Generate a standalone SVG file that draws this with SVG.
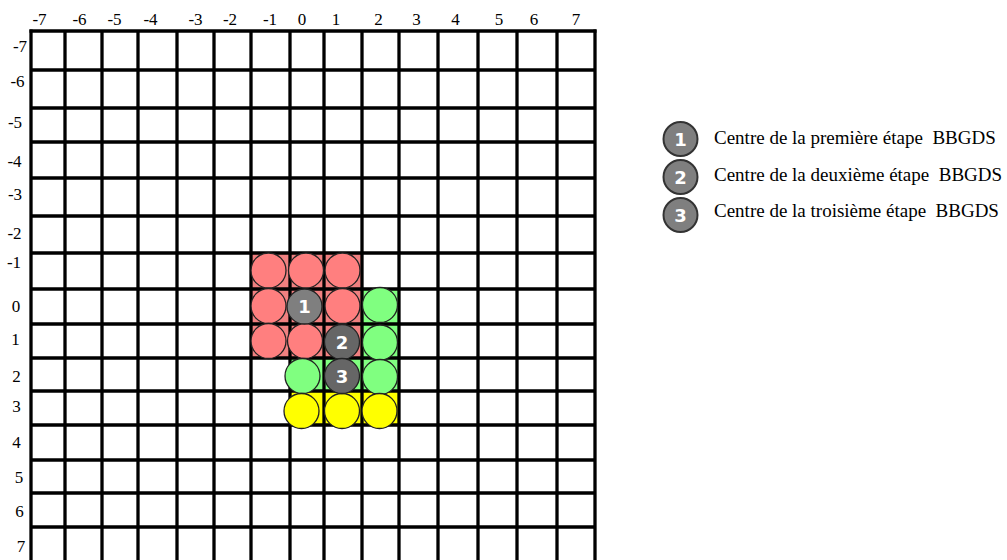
<svg xmlns="http://www.w3.org/2000/svg" width="1007" height="560" viewBox="0 0 1007 560">
<style>
.ax{font-family:"Liberation Serif","Times New Roman",serif;font-size:17px;fill:#000;text-anchor:middle}
.lg{font-family:"Liberation Serif","Times New Roman",serif;font-size:19px;fill:#000;white-space:pre}
.g line{stroke:#000;stroke-width:3.3}
.c{stroke:#222;stroke-width:1.3}
.pk{fill:#ff7f7f}
.gr{fill:#80ff80}
.yl{fill:#ffff00}
.n1{fill:#7f7f7f}
.n2{fill:#666666}
.num{font-family:"DejaVu Sans",Verdana,sans-serif;font-weight:bold;font-size:18px;fill:#fff;text-anchor:middle}
.lc{fill:#7f7f7f;stroke:#333;stroke-width:2}
</style>
<rect width="1007" height="560" fill="#fff"/>
<g id="cells">
<rect x="251" y="253" width="111" height="105" fill="#f08080"/>
<rect x="362" y="289" width="37" height="102" fill="#80ff80"/>
<rect x="290" y="358" width="72" height="33" fill="#80ff80"/>
<rect x="290" y="391" width="109" height="34" fill="#ffff00"/>
</g>
<g id="grid" class="g">
<line x1="31" y1="29.5" x2="31" y2="562"/>
<line x1="65" y1="31" x2="65" y2="562"/>
<line x1="102" y1="31" x2="102" y2="562"/>
<line x1="138" y1="31" x2="138" y2="562"/>
<line x1="177" y1="31" x2="177" y2="562"/>
<line x1="214" y1="31" x2="214" y2="562"/>
<line x1="251" y1="31" x2="251" y2="562"/>
<line x1="290" y1="31" x2="290" y2="562"/>
<line x1="324" y1="31" x2="324" y2="562"/>
<line x1="362" y1="31" x2="362" y2="562"/>
<line x1="399" y1="31" x2="399" y2="562"/>
<line x1="438" y1="31" x2="438" y2="562"/>
<line x1="478" y1="31" x2="478" y2="562"/>
<line x1="517" y1="31" x2="517" y2="562"/>
<line x1="557" y1="31" x2="557" y2="562"/>
<line x1="595" y1="29.5" x2="595" y2="562"/>
<line x1="29.5" y1="31" x2="596.5" y2="31"/>
<line x1="31" y1="70" x2="595" y2="70"/>
<line x1="31" y1="108" x2="595" y2="108"/>
<line x1="31" y1="142" x2="595" y2="142"/>
<line x1="31" y1="178" x2="595" y2="178"/>
<line x1="31" y1="216" x2="595" y2="216"/>
<line x1="31" y1="253" x2="595" y2="253"/>
<line x1="31" y1="289" x2="595" y2="289"/>
<line x1="31" y1="324" x2="595" y2="324"/>
<line x1="31" y1="358" x2="595" y2="358"/>
<line x1="31" y1="391" x2="595" y2="391"/>
<line x1="31" y1="425" x2="595" y2="425"/>
<line x1="31" y1="460" x2="595" y2="460"/>
<line x1="31" y1="493" x2="595" y2="493"/>
<line x1="31" y1="527" x2="595" y2="527"/>
</g>
<g id="axis-top" class="ax">
<text x="39.5" y="25">-7</text>
<text x="79.5" y="25">-6</text>
<text x="114.5" y="25">-5</text>
<text x="150.5" y="25">-4</text>
<text x="195.5" y="25">-3</text>
<text x="230" y="25">-2</text>
<text x="270" y="25">-1</text>
<text x="302" y="25">0</text>
<text x="336" y="25">1</text>
<text x="378.5" y="25">2</text>
<text x="416.5" y="25">3</text>
<text x="455.5" y="25">4</text>
<text x="499" y="25">5</text>
<text x="534" y="25">6</text>
<text x="576" y="25">7</text>
</g>
<g id="axis-left" class="ax">
<text x="20" y="52">-7</text>
<text x="17.5" y="87">-6</text>
<text x="15" y="128">-5</text>
<text x="14.5" y="167">-4</text>
<text x="15" y="200">-3</text>
<text x="14.5" y="239">-2</text>
<text x="14" y="268">-1</text>
<text x="16" y="312">0</text>
<text x="15.5" y="345">1</text>
<text x="16.5" y="382">2</text>
<text x="16.5" y="412">3</text>
<text x="16.5" y="448">4</text>
<text x="19" y="483">5</text>
<text x="19.5" y="517">6</text>
<text x="21" y="552">7</text>
</g>
<g id="circles">
<g id="p-m1-m1"><circle class="c pk" cx="268.5" cy="270.5" r="17.5"/></g>
<g id="p-0-m1"><circle class="c pk" cx="306" cy="270.5" r="17.5"/></g>
<g id="p-1-m1"><circle class="c pk" cx="342.5" cy="270.5" r="17.5"/></g>
<g id="p-m1-0"><circle class="c pk" cx="268.5" cy="306" r="17.5"/></g>
<g id="p-1-0"><circle class="c pk" cx="342.5" cy="306" r="17.5"/></g>
<g id="g-2-0"><circle class="c gr" cx="380" cy="305" r="17.5"/></g>
<g id="p-m1-1"><circle class="c pk" cx="268.5" cy="341" r="17.5"/></g>
<g id="p-0-1"><circle class="c pk" cx="305" cy="341" r="17.5"/></g>
<g id="g-2-1"><circle class="c gr" cx="380" cy="342.5" r="17.5"/></g>
<g id="g-0-2"><circle class="c gr" cx="302.5" cy="376" r="17.5"/></g>
<g id="g-2-2"><circle class="c gr" cx="380" cy="377" r="17.5"/></g>
<g id="y-0-3"><circle class="c yl" cx="301.5" cy="411" r="17.5"/></g>
<g id="y-1-3"><circle class="c yl" cx="342" cy="411" r="17.5"/></g>
<g id="y-2-3"><circle class="c yl" cx="379.5" cy="411" r="17.5"/></g>
<g id="center-1"><circle class="c n1" cx="304.5" cy="306.5" r="17.5"/><text class="num" x="304.5" y="313">1</text></g>
<g id="center-2"><circle class="c n2" cx="342" cy="342" r="17.5"/><text class="num" x="342" y="348.5">2</text></g>
<g id="center-3"><circle class="c n2" cx="342" cy="376" r="17.5"/><text class="num" x="342" y="382.5">3</text></g>
</g>
<g id="legend-1"><circle class="lc" cx="680.5" cy="139" r="17"/><text class="num" x="680.5" y="145.5">1</text><text class="lg" x="714" y="143.5">Centre de la première étape  BBGDS</text></g>
<g id="legend-2"><circle class="lc" cx="680.5" cy="177" r="17"/><text class="num" x="680.5" y="183.5">2</text><text class="lg" x="714" y="180.5">Centre de la deuxième étape  BBGDS</text></g>
<g id="legend-3"><circle class="lc" cx="680.5" cy="215" r="17"/><text class="num" x="680.5" y="221.5">3</text><text class="lg" x="714" y="217">Centre de la troisième étape  BBGDS</text></g>
</svg>
